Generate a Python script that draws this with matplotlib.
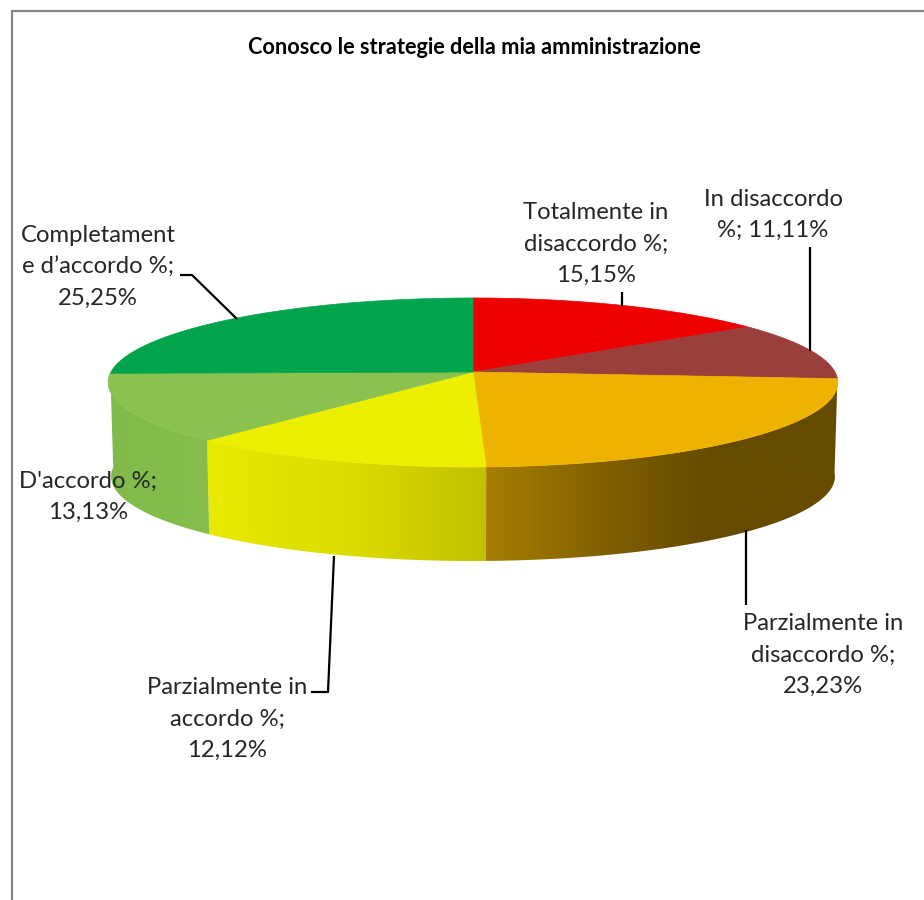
import matplotlib
matplotlib.use('Agg')
import matplotlib.pyplot as plt
from matplotlib.colors import LinearSegmentedColormap, to_rgb
from matplotlib.patches import Polygon
import numpy as np

plt.rcParams['font.family'] = ['Lato', 'DejaVu Sans']

title = 'Conosco le strategie della mia amministrazione'
categories = ['Totalmente in\ndisaccordo %;', 'In disaccordo\n%;', 'Parzialmente in\ndisaccordo %;',
              'Parzialmente in\naccordo %;', "D'accordo %;", 'Completament\ne d\u2019accordo %;']
values = [15.15, 11.11, 23.23, 12.12, 13.13, 25.25]
separators = ['\n', ' ', '\n', '\n', '\n', '\n']
top_colors = ['#EE0000', '#9B3F3D', '#EEB200', '#EEEE00', '#8AC250', '#00A44C']

# colori del lato: (x, colore)
side_stops = {
    2: [(486, '#A98000'), (620, '#7C5C00'), (710, '#654B00'), (840, '#654B00')],
    3: [(207, '#EAEA00'), (350, '#DCDC00'), (486, '#C0C000')],
    4: [(108, '#80BA4A'), (207, '#85BE4C')],
}

# posizione delle etichette (centro) e linee guida
label_pos = [(596, 244), (773, 215), (823, 655), (227, 719), (88, 497), (98, 267)]
leaders = [
    [(622, 292), (622, 306)],
    [(810, 247), (810, 351)],
    [(746, 530), (746, 605)],
    [(334, 556), (328, 692), (311, 692)],
    [(180, 275), (192, 275), (237, 319)],
]

cx, cy = 473, 372
rx, ry = 362, 83.2
persp = 0.124
depth = 94


# Proiezione di un punto del bordo della torta
def project(theta, r=1.0):
    u, v = r * np.sin(theta), r * np.cos(theta)
    w = 1 + persp * v
    return cx + rx * u / w, cy - ry * v / w


fig = plt.figure(figsize=(9.24, 9.0), dpi=100)
ax = fig.add_axes([0, 0, 1, 1])
ax.axis('off')

# cornice
ax.plot([12, 12, 924], [900, 11, 11], color='#868686', lw=1.6, solid_joinstyle='miter')

edges = np.cumsum([0] + values) / sum(values) * 2 * np.pi

# lato, con sfumatura orizzontale ritagliata sul poligono
for i, stops in side_stops.items():
    a0 = max(edges[i], np.pi / 2)
    a1 = min(edges[i + 1], 3 * np.pi / 2)
    th = np.linspace(a0, a1, 200)
    px, py = project(th)
    bx = px + (cx - px) * 0.008
    by = py + depth
    poly = Polygon(np.c_[np.r_[px, bx[::-1]], np.r_[py, by[::-1]]], closed=True, transform=ax.transData,
                   fc='none', ec='none')
    ax.add_patch(poly)
    x0, x1 = stops[0][0], stops[-1][0]
    cmap = LinearSegmentedColormap.from_list(
        f'side{i}', [((s[0] - x0) / (x1 - x0), to_rgb(s[1])) for s in stops])
    im = ax.imshow(np.linspace(0, 1, 256)[None, :], cmap=cmap, aspect='auto', zorder=2,
                   extent=(x0 - 6, x1 + 6, 600, 350), interpolation='bilinear')
    im.set_clip_path(poly)

# faccia superiore
for i, col in enumerate(top_colors):
    th = np.linspace(edges[i], edges[i + 1], 120)
    px, py = project(th)
    ax.fill(np.r_[cx, px], np.r_[cy, py], facecolor=col, edgecolor=col, lw=0.5, zorder=3)

# linee guida
for pts in leaders:
    ax.plot([p[0] for p in pts], [p[1] for p in pts], color='black', lw=1.6, zorder=4,
            solid_capstyle='butt')

# etichette
for cat, val, sep, pos in zip(categories, values, separators, label_pos):
    txt = cat + sep + f'{val:.2f}'.replace('.', ',') + '%'
    ax.text(pos[0], pos[1], txt, ha='center', va='center', fontsize=17.2, color='#262626',
            linespacing=1.6, zorder=5)

ax.text(474, 47, title, ha='center', va='center', fontsize=15.7, fontweight='bold', color='black', zorder=5)

ax.set_xlim(0, 924)
ax.set_ylim(900, 0)

fig.savefig('out.png', dpi=100)
